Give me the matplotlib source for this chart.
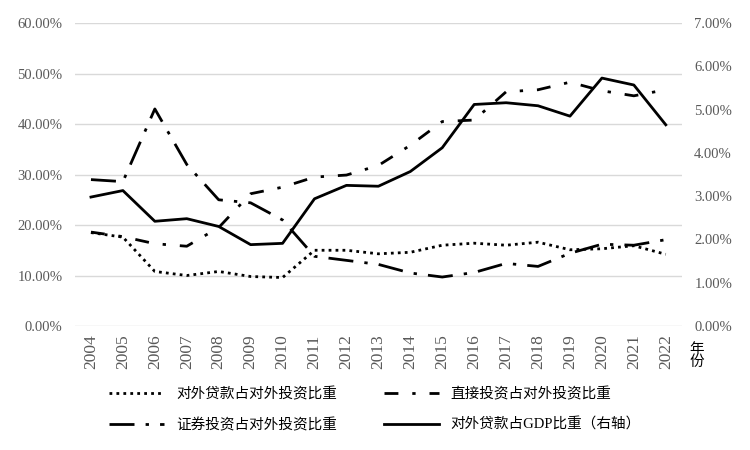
import matplotlib
matplotlib.use("Agg")
import matplotlib.pyplot as plt
from matplotlib.ticker import FuncFormatter

years = list(range(2004, 2023))
loan_share = [18.5, 17.6, 10.8, 10.0, 10.8, 9.8, 9.6, 15.0, 15.0, 14.3, 14.6, 16.0, 16.4, 16.0, 16.6, 15.1, 15.3, 15.9, 14.2]
direct_share = [18.6, 17.7, 16.3, 15.8, 19.5, 26.2, 27.5, 29.5, 29.9, 31.8, 35.8, 40.5, 40.8, 46.4, 46.8, 48.3, 46.6, 45.6, 46.8]
securities_share = [29.0, 28.6, 43.0, 32.0, 25.0, 24.4, 21.0, 13.8, 13.0, 12.2, 10.5, 9.7, 10.6, 12.4, 11.8, 14.4, 16.2, 16.0, 17.1]
loan_gdp = [2.98, 3.13, 2.42, 2.48, 2.30, 1.88, 1.91, 2.94, 3.25, 3.23, 3.57, 4.12, 5.12, 5.16, 5.09, 4.85, 5.73, 5.57, 4.65]

labels = ["对外贷款占对外投资比重", "直接投资占对外投资比重",
          "证券投资占对外投资比重", "对外贷款占GDP比重（右轴）"]

serif = ["Liberation Serif", "Noto Sans CJK SC"]
tick_color = "#595959"

fig = plt.figure(figsize=(7.5, 4.5), dpi=100)
ax = fig.add_axes([0.1, 0.2756, 0.809, 0.673])
ax2 = ax.twinx()

l1, = ax.plot(years, loan_share, color="black", lw=2, linestyle=(0, (1, 1.5)))
l2, = ax.plot(years, direct_share, color="black", lw=2, linestyle=(0, (5, 5, 1.2, 5)))
l3, = ax.plot(years, securities_share, color="black", lw=2, linestyle=(0, (9, 4, 1.2, 4)))
l4, = ax2.plot(years, loan_gdp, color="black", lw=2)

ax.set_ylim(0, 60)
ax.set_yticks(range(0, 61, 10))
ax2.set_ylim(0, 7)
ax2.set_yticks(range(0, 8))
ax.set_xlim(2003.5, 2022.5)
ax.set_xticks(years)

pct = FuncFormatter(lambda v, p: "%.2f%%" % v)
ax.yaxis.set_major_formatter(pct)
ax2.yaxis.set_major_formatter(pct)

ax.grid(axis="y", color="#d9d9d9", lw=1)
ax.set_axisbelow(True)
for a in (ax, ax2):
    for s in a.spines.values():
        s.set_visible(False)
    a.tick_params(length=0, labelcolor=tick_color, labelsize=10.5, pad=9)
    for t in a.get_yticklabels():
        t.set_family(serif)

for t in ax.get_xticklabels():
    t.set_rotation(90)
    t.set_family(serif)
ax.tick_params(axis="x", pad=6, labelsize=12.5)

fig.text(0.929, 0.21, "年\n份", ha="center", va="center", fontsize=10.5,
         family=["Noto Sans CJK SC"], linespacing=0.95)

fig.legend([l1, l3, l2, l4], [labels[0], labels[2], labels[1], labels[3]],
           ncol=2, loc="center", bbox_to_anchor=(0.5, 0.09), frameon=False,
           prop={"family": serif, "size": 10.5}, handlelength=3.8,
           columnspacing=3.2, labelspacing=1.15)

fig.savefig("out.png", dpi=100)
